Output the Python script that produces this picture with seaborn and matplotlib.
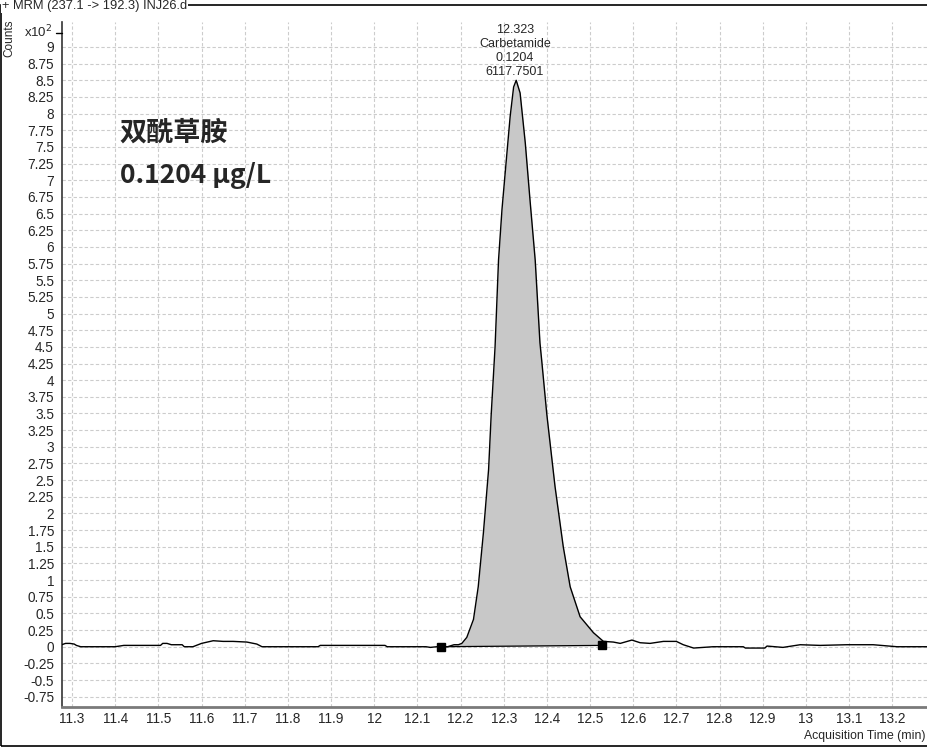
import matplotlib
matplotlib.use("Agg")
import matplotlib.pyplot as plt
import numpy as np
import pandas as pd
import seaborn as sns
from matplotlib.lines import Line2D
from matplotlib.patches import Rectangle
from matplotlib.ticker import FuncFormatter

# chromatogram trace, counts in units of 10^2
trace_time = [
    11.276, 11.285, 11.295, 11.305, 11.31, 11.32, 11.40, 11.42, 11.505, 11.51,
    11.52, 11.53, 11.555, 11.56, 11.58, 11.60, 11.627, 11.65, 11.673, 11.705,
    11.728, 11.74, 11.87, 11.875, 12.025, 12.03, 12.12, 12.13, 12.145, 12.17,
    12.185, 12.195, 12.203, 12.2145, 12.23, 12.241, 12.253, 12.265, 12.271, 12.28,
    12.288, 12.296, 12.306, 12.315, 12.323, 12.329, 12.338, 12.35, 12.361, 12.373,
    12.384, 12.388, 12.40, 12.419, 12.438, 12.454, 12.477, 12.508, 12.531, 12.554,
    12.57, 12.597, 12.616, 12.639, 12.67, 12.70, 12.716, 12.74, 12.785, 12.855,
    12.86, 12.905, 12.91, 12.947, 12.987, 13.033, 13.095, 13.156, 13.211, 13.283,
]
trace_counts = [
    0.03, 0.05, 0.05, 0.04, 0.02, 0.0, 0.0, 0.02, 0.02, 0.05,
    0.05, 0.03, 0.03, 0.0, 0.0, 0.05, 0.09, 0.08, 0.08, 0.07,
    0.04, 0.0, 0.0, 0.02, 0.02, 0.0, 0.0, -0.01, 0.0, 0.0,
    0.03, 0.03, 0.05, 0.14, 0.41, 0.9, 1.71, 2.66, 3.48, 4.5,
    5.8, 6.56, 7.3, 7.96, 8.4, 8.5, 8.31, 7.56, 6.7, 5.8,
    4.56, 4.3, 3.48, 2.4, 1.5, 0.9, 0.45, 0.21, 0.08, 0.07,
    0.05, 0.1, 0.06, 0.05, 0.08, 0.08, 0.03, -0.02, 0.0, 0.0,
    -0.02, -0.02, 0.01, -0.01, 0.03, 0.02, 0.03, 0.03, 0.0, 0.0,
]

# integration baseline end points
baseline_time = [12.155, 12.527]
baseline_counts = [0.0, 0.02]

peak_label = ["12.323", "Carbetamide", "0.1204", "6117.7501"]
apex_time = 12.329
apex_counts = 8.5

x_ticks = [round(11.3 + 0.1 * i, 1) for i in range(20)]
y_ticks = [-0.75 + 0.25 * i for i in range(40)]

title_text = "+ MRM (237.1 -> 192.3) INJ26.d"
compound_cn = "双酰草胺"
conc_text = "0.1204 μg/L"

sns.set_style("white")
plt.rcParams["font.family"] = ["Liberation Sans", "DejaVu Sans"]
cjk = ["Noto Sans CJK SC", "DejaVu Sans"]

df = pd.DataFrame({"time": trace_time, "counts": trace_counts})

fig = plt.figure(figsize=(9.28, 7.48), dpi=100)
ax = fig.add_axes([61.7 / 928, 1 - 706.7 / 748, 1 - 61.7 / 928, (706.7 - 22) / 748])

ax.set_xlim(11.276, 13.283)
ax.set_ylim(-0.9, 9.375)

# grid
ax.set_xticks(x_ticks)
ax.set_yticks(y_ticks)
ax.grid(True, color="#cccccc", linestyle=(0, (3, 2)), linewidth=0.8)
ax.set_axisbelow(True)

# peak area fill between trace and integration baseline
fill_t = np.linspace(baseline_time[0], baseline_time[1], 400)
fill_y = np.interp(fill_t, trace_time, trace_counts)
fill_base = np.interp(fill_t, baseline_time, baseline_counts)
ax.fill_between(fill_t, fill_base, fill_y, color="#c8c8c8", linewidth=0, zorder=2)

sns.lineplot(data=df, x="time", y="counts", ax=ax, color="black",
             linewidth=1.0, estimator=None, sort=False, zorder=3)
ax.plot(baseline_time, baseline_counts, color="black", linewidth=0.9, zorder=3)
ax.plot(baseline_time, baseline_counts, linestyle="none", marker="s",
        markersize=6, color="black", zorder=4)

ax.annotate("\n".join(peak_label), xy=(apex_time, apex_counts), xytext=(-1, 2),
            textcoords="offset points", ha="center", va="bottom",
            fontsize=9, linespacing=1.2)

ax.text(11.41, 7.71, compound_cn, family=cjk, fontsize=19.5, fontweight="heavy",
        va="center", ha="left")
ax.text(11.41, 7.07, conc_text, family=cjk, fontsize=19, fontweight="heavy",
        va="center", ha="left")

ax.xaxis.set_major_formatter(FuncFormatter(lambda v, p: f"{v:g}"))
ax.yaxis.set_major_formatter(FuncFormatter(lambda v, p: f"{v:g}"))
ax.tick_params(axis="both", labelsize=9.8, direction="out", length=4,
               width=1, color="black", pad=1.5)
ax.tick_params(axis="x", length=0, pad=4)
ax.set_xlabel("")
ax.set_ylabel("")

for side in ["top", "right"]:
    ax.spines[side].set_visible(False)
ax.spines["left"].set_color("#333333")
ax.spines["left"].set_linewidth(1.2)
ax.spines["bottom"].set_color("#7a7a7a")
ax.spines["bottom"].set_linewidth(2)

# frame and header texts
fig.add_artist(Rectangle((1.5 / 928, 2 / 748), 1, 1 - 7 / 748, transform=fig.transFigure,
                         fill=False, edgecolor="black", linewidth=1.2))
fig.text(2 / 928, 1 - 6.5 / 748, title_text, fontsize=9.3, ha="left", va="center",
         bbox=dict(facecolor="white", edgecolor="none", pad=0.5))
fig.text(9.5 / 928, 1 - 38 / 748, "Counts", fontsize=8.5, rotation=90,
         ha="center", va="center")
fig.text(52 / 928, 1 - 32 / 748, "x10$^{2}$", fontsize=9.5, ha="right", va="center")
fig.add_artist(Line2D([56 / 928, 61.7 / 928], [1 - 33 / 748, 1 - 33 / 748],
                      transform=fig.transFigure, color="black", linewidth=1))
fig.text(926 / 928, 1 - 736 / 748, "Acquisition Time (min)", fontsize=8.8,
         ha="right", va="center")

fig.savefig("out.png", dpi=100)
